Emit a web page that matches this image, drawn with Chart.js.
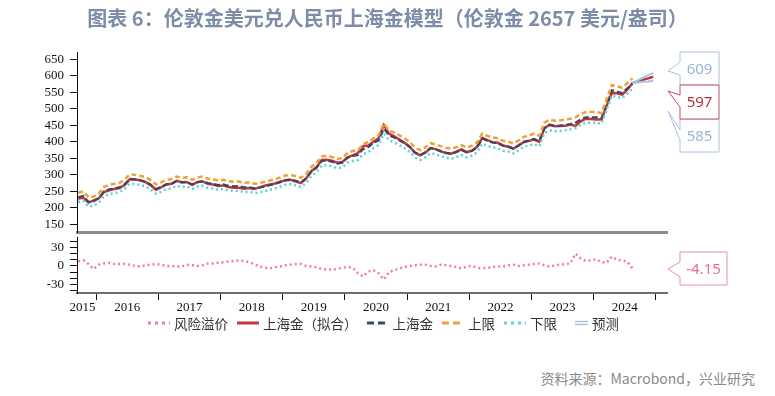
<!DOCTYPE html>
<html>
<head>
<meta charset="utf-8">
<script src="https://cdn.jsdelivr.net/npm/chart.js@4.4.1/dist/chart.umd.min.js"></script>
<style>
  body { margin: 0; background: #fff; width: 775px; height: 396px; position: relative; overflow: hidden;
         font-family: "Noto Sans CJK SC", "Noto Sans", sans-serif; }
  #title { position: absolute; top: 6px; left: 0; width: 775px; text-align: center; font-size: 20px;
           line-height: 24px; font-weight: bold; color: #7d8da7; }
  #src { position: absolute; right: 20px; top: 368px; font-size: 14px; line-height: 20px; color: #8a8a8a; }
  #box1 { position: absolute; left: 0; top: 0; width: 775px; height: 234px; }
  #box2 { position: absolute; left: 0; top: 233px; width: 775px; height: 81px; }
  #legend { position: absolute; left: 148px; top: 315px; height: 16px; display: flex; align-items: center;
            font-size: 13.5px; line-height: 16px; color: #333; white-space: nowrap; }
  #legend .item { display: flex; align-items: center; margin-right: 9px; }
  #legend canvas { margin-right: 4px; }
</style>
</head>
<body>
<div id="box1"><canvas id="upper"></canvas></div>
<div id="box2"><canvas id="lower"></canvas></div>
<div id="legend"></div>
<div id="title">图表 6：伦敦金美元兑人民币上海金模型（伦敦金 2657 美元/盎司）</div>
<div id="src">资料来源：Macrobond，兴业研究</div>
<script>
// monthly readings, Sep 2015 - Aug 2024
var months = [
  '2015-09','2015-10','2015-11','2015-12',
  '2016-01','2016-02','2016-03','2016-04','2016-05','2016-06','2016-07','2016-08','2016-09','2016-10','2016-11','2016-12',
  '2017-01','2017-02','2017-03','2017-04','2017-05','2017-06','2017-07','2017-08','2017-09','2017-10','2017-11','2017-12',
  '2018-01','2018-02','2018-03','2018-04','2018-05','2018-06','2018-07','2018-08','2018-09','2018-10','2018-11','2018-12',
  '2019-01','2019-02','2019-03','2019-04','2019-05','2019-06','2019-07','2019-08','2019-09','2019-10','2019-11','2019-12',
  '2020-01','2020-02','2020-03','2020-04','2020-05','2020-06','2020-07','2020-08','2020-09','2020-10','2020-11','2020-12',
  '2021-01','2021-02','2021-03','2021-04','2021-05','2021-06','2021-07','2021-08','2021-09','2021-10','2021-11','2021-12',
  '2022-01','2022-02','2022-03','2022-04','2022-05','2022-06','2022-07','2022-08','2022-09','2022-10','2022-11','2022-12',
  '2023-01','2023-02','2023-03','2023-04','2023-05','2023-06','2023-07','2023-08','2023-09','2023-10','2023-11','2023-12',
  '2024-01','2024-02','2024-03','2024-04','2024-05','2024-06','2024-07','2024-08'
];

// 上海金
var shGold = [
  232,236,218,220,
  230,250,256,259,262,272,288,286,283,279,270,257,
  263,271,273,281,277,279,271,278,281,275,273,269,
  271,267,265,266,262,263,259,261,265,269,273,278,
  284,286,282,277,289,310,322,342,343,340,334,337,
  352,357,360,378,384,396,405,440,420,413,405,396,
  385,368,360,368,381,377,372,367,364,369,375,368,
  373,383,410,403,398,396,388,386,380,389,400,404,
  409,402,442,451,448,449,451,454,458,468,474,474,
  474,471,512,556,552,548,562,576
];

// 上海金（拟合）
var fitted = [
  228,231,216,223,
  229,248,253,257,260,270,287,286,284,278,269,255,
  262,271,273,282,278,278,270,278,280,273,271,266,
  268,263,261,261,258,260,257,262,267,271,274,279,
  283,285,280,275,289,311,323,345,346,343,337,339,
  353,359,366,387,389,400,411,451,425,417,407,397,
  385,367,359,367,381,378,371,366,364,370,377,369,
  373,385,412,405,399,397,389,385,379,389,399,403,
  407,400,441,452,447,448,449,452,448,462,470,469,
  468,468,509,548,547,543,558,578
];

// 上限
var upperBand = [
  246,250,232,234,
  244,264,270,273,276,286,302,300,297,293,284,271,
  277,285,287,295,291,293,285,292,295,289,287,283,
  285,281,279,280,276,277,273,275,279,283,287,292,
  298,300,296,291,303,324,336,356,357,354,348,351,
  367,372,375,393,399,411,420,455,435,428,420,411,
  400,383,375,383,396,392,387,382,379,384,390,383,
  388,398,425,418,413,411,403,401,395,404,415,419,
  425,418,458,467,464,465,467,470,474,484,490,490,
  490,487,528,572,568,564,578,592
];

// 下限
var lowerBand = [
  218,222,204,206,
  216,236,242,245,248,258,274,272,269,265,256,243,
  249,257,259,267,263,265,257,264,267,261,259,255,
  257,253,251,252,248,249,245,247,251,255,259,264,
  270,272,268,263,275,296,308,328,329,326,320,323,
  337,342,345,363,369,381,390,425,405,398,390,381,
  370,353,345,353,366,362,357,352,349,354,360,353,
  358,368,395,388,383,381,373,371,365,374,385,389,
  393,386,426,435,432,433,435,438,442,452,458,458,
  458,455,496,540,536,532,546,560
];

// 风险溢价
var premium = [
  7,9,3,-5,
  2,4,5,3,3,3,2,0,-1,1,2,3,
  2,0,0,-1,-1,2,1,0,1,4,4,5,
  6,7,8,9,8,6,3,-1,-3,-4,-2,-1,
  1,2,3,3,0,-1,-2,-5,-6,-6,-5,-3,
  -2,-3,-12,-17,-9,-7,-12,-22,-10,-7,-4,-2,
  0,1,2,2,0,-1,2,1,0,-2,-4,-1,
  0,-3,-4,-3,-2,-1,-1,1,2,0,1,2,
  3,4,1,-1,1,2,3,4,20,12,8,9,
  11,6,5,15,10,9,7,-4.15
];

// 预测
var forecastMonths = ['2024-08','2024-09','2024-10','2024-11','2024-12'];
var forecastMid  = [578,583,588,592,597];
var forecastHigh = [578,586,594,602,609];
var forecastLow  = [578,580,582,583,585];

var yearLabels = ['2015','2016','2017','2018','2019','2020','2021','2022','2023','2024'];
var yearTicks = [2016,2017,2018,2019,2020,2021,2022,2023,2024,2025];
var upperTicks = [150,200,250,300,350,400,450,500,550,600,650];
var premiumTicks = [-40,-30,-20,-10,0,10,20,30,40];
var premiumLabels = [-30,0,30];

var legendNames = ['风险溢价','上海金（拟合）','上海金','上限','下限','预测'];

var X_MIN = 2015.69, X_MAX = 2025.18;

function toX(m) {
  var p = m.split('-');
  return +p[0] + (+p[1] - 0.5) / 12;
}
function pts(labels, vals) {
  return labels.map(function (m, i) { return {x: toX(m), y: vals[i]}; });
}
function noPad(s) { s.paddingTop = 0; s.paddingBottom = 0; s.paddingLeft = 0; s.paddingRight = 0; }

var C_RED = '#c6343f', C_NAVY = '#3c4764', C_ORANGE = '#eea235', C_CYAN = '#5cd3d2',
    C_BLUE = '#a9c4e3', C_PINK = '#f17e98';

Chart.defaults.font.family = '"Liberation Serif", "DejaVu Serif", serif';
Chart.defaults.font.size = 13;
Chart.defaults.color = '#111';
Chart.defaults.animation = false;

var callouts = {
  id: 'callouts',
  afterDraw: function (chart, args, opts) {
    var ctx = chart.ctx, a = chart.chartArea;
    opts.items.forEach(function (it) {
      var x0 = a.right + 13, y0 = a.top + it.dy;
      ctx.save();
      ctx.beginPath();
      ctx.moveTo(x0, y0);
      ctx.lineTo(x0 + it.w, y0);
      ctx.lineTo(x0 + it.w, y0 + it.h);
      ctx.lineTo(x0, y0 + it.h);
      ctx.lineTo(x0, y0 + it.b2);
      ctx.lineTo(a.right + 1, y0 + it.tip);
      ctx.lineTo(x0, y0 + it.b1);
      ctx.closePath();
      ctx.fillStyle = '#fff';
      ctx.fill();
      ctx.strokeStyle = it.border;
      ctx.lineWidth = 1;
      ctx.stroke();
      ctx.fillStyle = it.color;
      ctx.font = '15px "Noto Sans", "Open Sans", sans-serif';
      ctx.textAlign = 'center';
      ctx.textBaseline = 'middle';
      ctx.fillText(it.text, x0 + it.w / 2, y0 + it.h / 2 + 1);
      ctx.restore();
    });
  }
};

new Chart(document.getElementById('upper'), {
  type: 'line',
  data: {
    datasets: [
      {label: '预测', data: pts(forecastMonths, forecastHigh), borderColor: C_BLUE, borderWidth: 2, order: 0},
      {label: '预测', data: pts(forecastMonths, forecastLow), borderColor: C_BLUE, borderWidth: 2, order: 0},
      {label: '上限', data: pts(months, upperBand), borderColor: C_ORANGE, borderWidth: 2.5, borderDash: [5, 3], order: 1},
      {label: '下限', data: pts(months, lowerBand), borderColor: C_CYAN, borderWidth: 2.5, borderDash: [2, 3], order: 2},
      {label: '上海金', data: pts(months, shGold), borderColor: C_NAVY, borderWidth: 2.2, borderDash: [6, 3], order: 3},
      {label: '上海金（拟合）', data: pts(months, fitted).concat(pts(forecastMonths, forecastMid).slice(1)),
       borderColor: C_RED, borderWidth: 2.5, order: 4}
    ]
  },
  options: {
    responsive: true,
    maintainAspectRatio: false,
    elements: {point: {radius: 0}, line: {tension: 0}},
    layout: {padding: {top: 52, right: 108, left: 0, bottom: 0}},
    plugins: {
      legend: {display: false},
      tooltip: {enabled: false},
      callouts: {items: [
        {text: String(forecastHigh[forecastHigh.length - 1]), color: '#9cb6d6', border: '#a9c2df',
         dy: 0, w: 39, h: 33, b1: 10, b2: 23, tip: 19},
        {text: String(forecastLow[forecastLow.length - 1]), color: '#9cb6d6', border: '#a9c2df',
         dy: 67, w: 39, h: 33, b1: 11, b2: 21, tip: -8},
        {text: String(forecastMid[forecastMid.length - 1]), color: '#b3303f', border: '#c4505e',
         dy: 33, w: 39, h: 34, b1: 10, b2: 22, tip: 6}
      ]}
    },
    scales: {
      x: {
        type: 'linear', min: X_MIN, max: X_MAX,
        ticks: {display: false},
        grid: {display: false, drawTicks: false},
        border: {color: '#8c8c8c', width: 3},
        afterFit: function (s) { s.height = 2; noPad(s); }
      },
      y: {
        min: 127, max: 672,
        afterBuildTicks: function (s) { s.ticks = upperTicks.map(function (v) { return {value: v}; }); },
        ticks: {padding: 6, color: '#111', autoSkip: false},
        grid: {drawOnChartArea: false, tickLength: 7, color: '#111'},
        border: {color: '#111', width: 1},
        afterFit: function (s) { s.width = 77; noPad(s); }
      }
    }
  },
  plugins: [callouts]
});

new Chart(document.getElementById('lower'), {
  type: 'line',
  data: {
    datasets: [
      {label: '风险溢价', data: pts(months, premium), borderColor: C_PINK, borderWidth: 2.5, borderDash: [2, 3]}
    ]
  },
  options: {
    responsive: true,
    maintainAspectRatio: false,
    elements: {point: {radius: 0}, line: {tension: 0}},
    layout: {padding: {top: 4, right: 108, left: 0, bottom: 0}},
    plugins: {
      tooltip: {enabled: false},
      legend: {display: false},
      callouts: {items: [
        {text: premium[premium.length - 1].toFixed(2), color: '#e36f8a', border: '#ea8ea3',
         dy: 15, w: 47, h: 33, b1: 10, b2: 25, tip: 17}
      ]}
    },
    scales: {
      x: {
        type: 'linear', min: X_MIN, max: X_MAX, weight: 0,
        afterBuildTicks: function (s) { s.ticks = yearTicks.map(function (v) { return {value: v}; }); },
        ticks: {display: false},
        grid: {drawOnChartArea: false, tickLength: 7, color: '#111'},
        border: {color: '#6e6e6e', width: 2},
        afterFit: function (s) { s.height = 7; noPad(s); }
      },
      x2: {
        type: 'linear', position: 'bottom', min: X_MIN, max: X_MAX, weight: 1,
        afterBuildTicks: function (s) {
          s.ticks = yearLabels.map(function (l) { return {value: Math.max(+l + 0.5, X_MIN + 0.09)}; });
        },
        ticks: {
          autoSkip: false, maxRotation: 0, padding: 0, color: '#111',
          callback: function (v, i) { return yearLabels[i]; }
        },
        grid: {display: false, drawTicks: false},
        border: {display: false},
        afterFit: function (s) { s.height = 14; noPad(s); }
      },
      y: {
        min: -44, max: 47,
        afterBuildTicks: function (s) { s.ticks = premiumTicks.map(function (v) { return {value: v}; }); },
        ticks: {
          padding: 6, color: '#111', autoSkip: false,
          callback: function (v) { return premiumLabels.indexOf(v) >= 0 ? String(v) : ''; }
        },
        grid: {drawOnChartArea: false, tickLength: 7, color: '#111'},
        border: {color: '#111', width: 1},
        afterFit: function (s) { s.width = 77; noPad(s); }
      }
    }
  },
  plugins: [callouts]
});

// legend line samples
var legendStyles = [
  {color: C_PINK, dash: [3, 4]},
  {color: C_RED, dash: []},
  {color: C_NAVY, dash: [7, 4]},
  {color: C_ORANGE, dash: [7, 4]},
  {color: C_CYAN, dash: [3, 4]},
  {color: C_BLUE, twin: true}
];
var legendBox = document.getElementById('legend');
legendNames.forEach(function (name, i) {
  var st = legendStyles[i];
  var item = document.createElement('div');
  item.className = 'item';
  var c = document.createElement('canvas');
  c.width = 22; c.height = 8;
  var g = c.getContext('2d');
  g.strokeStyle = st.color;
  if (st.twin) {
    g.lineWidth = 1.5;
    g.beginPath(); g.moveTo(9, 2.5); g.lineTo(22, 2.5); g.moveTo(9, 5.5); g.lineTo(22, 5.5); g.stroke();
  } else {
    g.lineWidth = 3;
    g.setLineDash(st.dash);
    g.beginPath(); g.moveTo(0, 4); g.lineTo(22, 4); g.stroke();
  }
  var t = document.createElement('span');
  t.textContent = name;
  item.appendChild(c);
  item.appendChild(t);
  legendBox.appendChild(item);
});
</script>
</body>
</html>
